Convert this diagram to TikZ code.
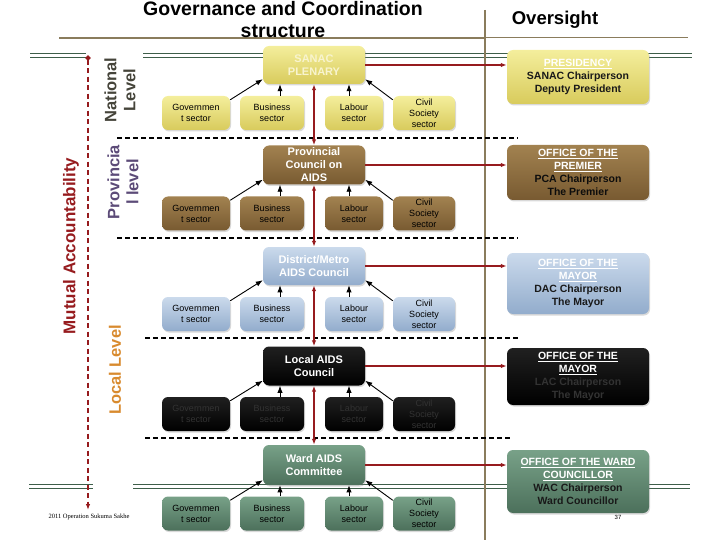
\documentclass[tikz,border=0pt]{standalone}
\usepackage{fontspec}
\setmainfont{Liberation Sans}
\newfontfamily\footfont{Liberation Serif}
\usepackage{xcolor}
\usepackage{tikz}
\usetikzlibrary{calc,positioning,arrows.meta,shadows}
\definecolor{yelT}{HTML}{F4EE9C}
\definecolor{yelB}{HTML}{D8CB5C}
\definecolor{brnT}{HTML}{A28250}
\definecolor{brnB}{HTML}{785A31}
\definecolor{bluT}{HTML}{CBDAEC}
\definecolor{bluB}{HTML}{92ACCC}
\definecolor{blkT}{HTML}{202020}
\definecolor{blkB}{HTML}{000000}
\definecolor{grnT}{HTML}{78A188}
\definecolor{grnB}{HTML}{4C705B}
\definecolor{ruleBrown}{HTML}{8A7C5C}
\definecolor{ruleGreen}{HTML}{3E5E4A}
\definecolor{accRed}{HTML}{961B1E}
\definecolor{natCol}{HTML}{45443A}
\definecolor{provCol}{HTML}{5C4B78}
\definecolor{locCol}{HTML}{D88A2E}
\definecolor{paleTxt}{HTML}{F8F4CF}
\tikzset{
  box/.style={rounded corners=6pt, align=center, inner sep=1pt,
    drop shadow={opacity=0.3, shadow xshift=1pt, shadow yshift=-1.5pt}},
  sector/.style={box, minimum height=34pt, font=\fontsize{9}{11}\selectfont},
  council/.style={box, minimum width=102pt, minimum height=38pt, text=white,
    font=\bfseries\fontsize{11}{13}\selectfont},
  office/.style={box, minimum width=142pt, text=black!90,
    font=\bfseries\fontsize{10.5}{12.8}\selectfont},
  levellabel/.style={rotate=90, align=center, font=\bfseries\fontsize{16.5}{19}\selectfont},
  link/.style={-Latex, line width=0.9pt},
  redlink/.style={draw=accRed, line width=1.8pt},
  sepline/.style={dash pattern=on 5pt off 3pt, line width=1.4pt},
  brownrule/.style={draw=ruleBrown, line width=1.5pt},
  greenrule/.style={draw=ruleGreen, double=white, double distance=2.4pt, line width=1pt}
}
\newcommand{\ttl}[1]{\textcolor{white}{\underline{#1}}}

\begin{document}
\begin{tikzpicture}[x=1pt, y=-1pt]
  \useasboundingbox (0,0) rectangle (720,540);
  % rules
  \draw[greenrule] (30,55.5) -- (86,55.5);
  \draw[greenrule] (143,55.5) -- (692,55.5);
  \draw[greenrule] (29,486.5) -- (93,486.5);
  \draw[greenrule] (133,486.5) -- (690,486.5);
  \draw[brownrule] (59,38) -- (485,38);
  \draw[brownrule] (485,37.5) -- (688,37.5);
  \draw[brownrule] (485,10) -- (485,540);
  \draw[sepline] (117,138) -- (518,138);
  \draw[sepline] (117,238) -- (518,238);
  \draw[sepline] (145,338) -- (518,338);
  \draw[sepline] (145,438) -- (512,438);

  % headings
  \node[font=\bfseries\fontsize{19.5}{22}\selectfont, align=center] (title) at (283,20) {Governance and Coordination\\structure};
  \node[font=\bfseries\fontsize{18.5}{22}\selectfont] (oversight) at (555,20) {Oversight};
  \node[levellabel, text=natCol] (national) at (120,90) {National\\Level};
  \node[levellabel, text=provCol] (provincial) at (123,182) {Provincia\\l level};
  \node[levellabel, text=locCol] (local) at (115,370) {Local Level};
  \node[levellabel, text=accRed, font=\bfseries\fontsize{17}{20}\selectfont] (mutual) at (71,246) {Mutual Accountability};

  % mutual accountability line
  \coordinate (mtop) at (88,55.5);
  \coordinate (mbot) at (88,510);
  \draw[accRed, line width=1.8pt, dash pattern=on 5pt off 3.5pt, {Circle[length=5pt]}-{Latex[length=6pt]}] (mtop) -- (mbot);

  % councils
  \node[council, top color=yelT, bottom color=yelB, text=paleTxt] (c1) at (314,65) {SANAC\\PLENARY};
  \node[council, top color=brnT, bottom color=brnB, minimum height=39pt] (c2) at (314,165) {Provincial\\Council on\\AIDS};
  \node[council, top color=bluT, bottom color=bluB] (c3) at (314,266) {District/Metro\\AIDS Council};
  \node[council, top color=blkT, bottom color=blkB, minimum height=39pt] (c4) at (314,366) {Local AIDS\\Council};
  \node[council, top color=grnT, bottom color=grnB, minimum height=40pt] (c5) at (314,465) {Ward AIDS\\Committee};

  % oversight offices
  \node[office, top color=yelT, bottom color=yelB, minimum height=54pt] (o1) at (578,77)
    {\ttl{PRESIDENCY}\\SANAC Chairperson\\Deputy President};
  \node[office, top color=brnT, bottom color=brnB, minimum height=55pt, text=black!95] (o2) at (578,172.5)
    {\ttl{OFFICE OF THE}\\\ttl{PREMIER}\\PCA Chairperson\\The Premier};
  \node[office, top color=bluT, bottom color=bluB, minimum height=61pt] (o3) at (578,283.5)
    {\ttl{OFFICE OF THE}\\\ttl{MAYOR}\\DAC Chairperson\\The Mayor};
  \node[office, top color=blkT, bottom color=blkB, minimum height=57pt, text=black!80] (o4) at (578,376.5)
    {\ttl{OFFICE OF THE}\\\ttl{MAYOR}\\LAC Chairperson\\The Mayor};
  \node[office, top color=grnT, bottom color=grnB, minimum height=63pt] (o5) at (578,481.5)
    {\ttl{OFFICE OF THE WARD}\\\ttl{COUNCILLOR}\\WAC Chairperson\\Ward Councillor};

  % sectors and their links
  \foreach \r/\y/\ct/\cb/\tc in {1/113/yelT/yelB/black, 2/213.5/brnT/brnB/black, 3/314/bluT/bluB/black,
                                 4/414/blkT/blkB/black!80, 5/513.5/grnT/grnB/black}{
    \node[sector, top color=\ct, bottom color=\cb, text=\tc, minimum width=68pt] (gov\r) at (196,\y) {Governmen\\t sector};
    \node[sector, top color=\ct, bottom color=\cb, text=\tc, minimum width=64pt] (bus\r) at (272,\y) {Business\\sector};
    \node[sector, top color=\ct, bottom color=\cb, text=\tc, minimum width=58pt] (lab\r) at (354,\y) {Labour\\sector};
    \node[sector, top color=\ct, bottom color=\cb, text=\tc, minimum width=62pt] (civ\r) at (424,\y) {Civil\\Society\\sector};
    \coordinate (bt\r) at ([xshift=8pt]bus\r.north);
    \coordinate (lt\r) at ([xshift=-5pt]lab\r.north);
    \draw[link] ([yshift=-4pt]gov\r.north east) -- ([yshift=5pt]c\r.south west);
    \draw[link] (bt\r) -- (bt\r |- c\r.south);
    \draw[link] (lt\r) -- (lt\r |- c\r.south);
    \draw[link] ([yshift=-4pt]civ\r.north west) -- ([yshift=5pt]c\r.south east);
    \draw[redlink, -{Latex[length=6pt]}] (c\r.east) -- (c\r.east -| o\r.west);
  }
  \foreach \r/\n in {1/2, 2/3, 3/4, 4/5}
    \draw[redlink, {Latex[length=6pt]}-{Latex[length=6pt]}] (c\r.south) -- (c\n.north);

  % footer
  \node[font=\footfont\fontsize{6.5}{8}\selectfont] (foot) at (89,517) {2011 Operation Sukuma Sakhe};
  \node[font=\fontsize{6}{7}\selectfont] (pgno) at (618,517) {37};
\end{tikzpicture}
\end{document}
